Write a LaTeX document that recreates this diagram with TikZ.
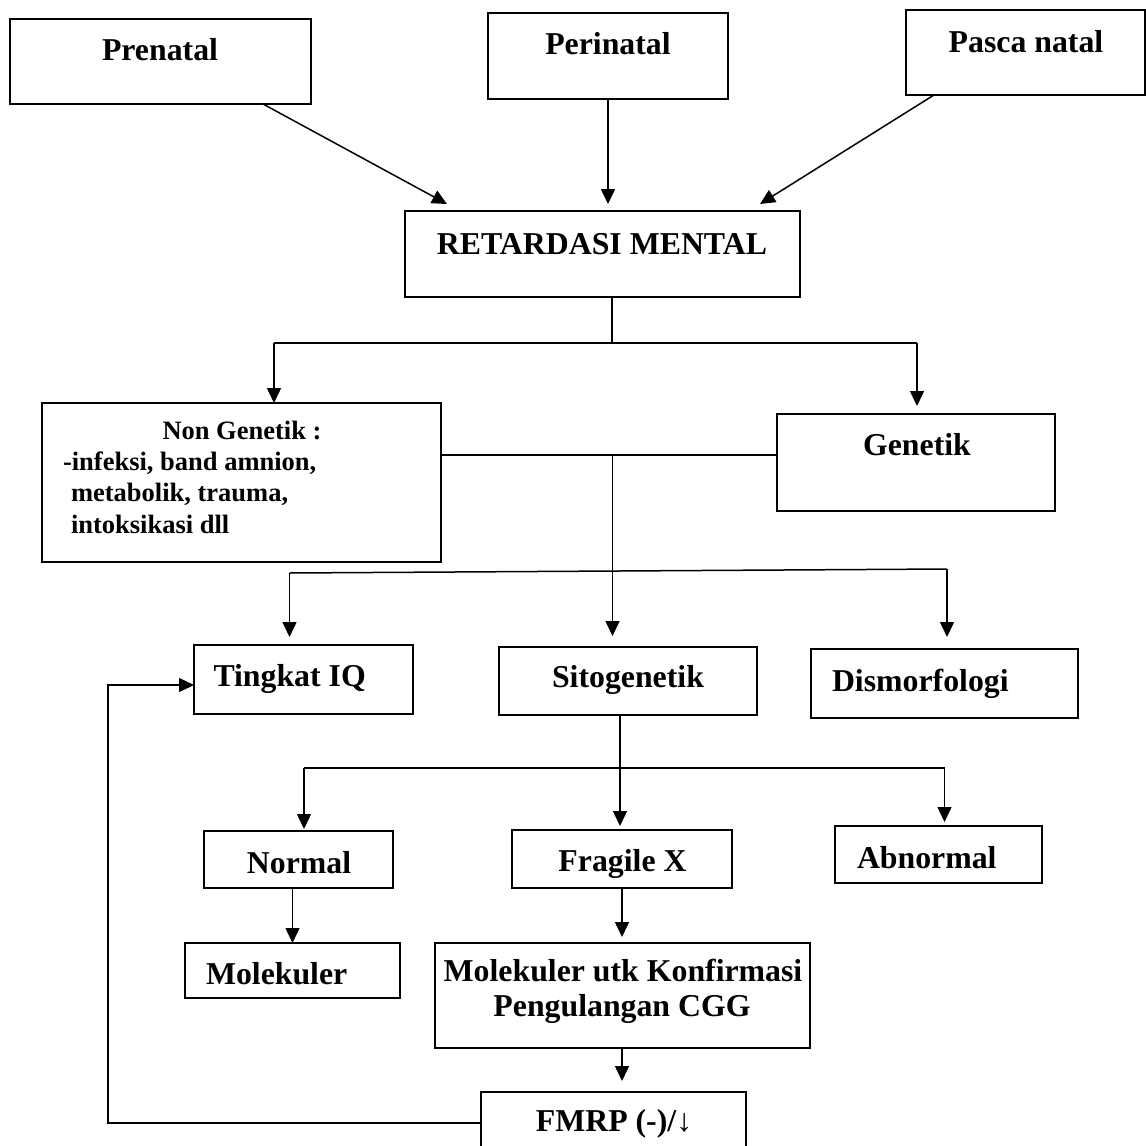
\documentclass[tikz,border=0pt]{standalone}
\usepackage{fontspec}
\setmainfont{Liberation Serif}
\usetikzlibrary{arrows.meta}
\begin{document}
\begin{tikzpicture}[x=1pt,y=-1pt,
  box/.style={draw, line width=2pt, rectangle, inner sep=0pt, outer sep=0pt},
  lbl/.style={inner sep=0pt, outer sep=0pt, anchor=base, font=\bfseries\fontsize{31.8}{31.8}\selectfont},
  lblw/.style={lbl, anchor=base west},
  small/.style={font=\bfseries\fontsize{26.5}{26.5}\selectfont},
  conn/.style={line width=1.5pt},
  arr/.style={conn, -{Triangle[length=15pt,width=14pt]}}]
\useasboundingbox (0,0) rectangle (1146,1146);
\clip (0,0) rectangle (1146,1146);
% boxes
\node[box, minimum width=301pt, minimum height=85pt] (pre) at (160.5,61.5) {};
\node[box, minimum width=240pt, minimum height=86pt] (peri) at (608,56) {};
\node[box, minimum width=239pt, minimum height=85pt] (pasca) at (1025.5,52.5) {};
\node[box, minimum width=395pt, minimum height=86pt] (rm) at (602.5,254) {};
\node[box, minimum width=399pt, minimum height=159pt] (ng) at (241.5,482.5) {};
\node[box, minimum width=278pt, minimum height=97pt] (gen) at (916,462.5) {};
\node[box, minimum width=219pt, minimum height=69pt] (tq) at (303.5,679.5) {};
\node[box, minimum width=258pt, minimum height=68pt] (sito) at (628,681) {};
\node[box, minimum width=267pt, minimum height=69pt] (dism) at (944.5,683.5) {};
\node[box, minimum width=189pt, minimum height=57pt] (nm) at (298.5,859.5) {};
\node[box, minimum width=220pt, minimum height=58pt] (fx) at (622,859) {};
\node[box, minimum width=207pt, minimum height=57pt] (abn) at (938.5,854.5) {};
\node[box, minimum width=215pt, minimum height=55pt] (mol) at (292.5,970.5) {};
\node[box, minimum width=375pt, minimum height=105pt] (kf) at (622.5,995.5) {};
\node[box, minimum width=265pt, minimum height=78pt] (fm) at (613.5,1131) {};
% texts
\node[lbl] (tpre) at (160,60) {Prenatal};
\node[lbl] (tperi) at (608,54) {Perinatal};
\node[lbl] (tpasca) at (1026,52) {Pasca natal};
\node[lbl] (trm) at (602,254) {RETARDASI MENTAL};
\node[lbl, small] (tng0) at (242,439) {Non Genetik :};
\node[lblw, small] (tng1) at (63,470) {-infeksi, band amnion,};
\node[lblw, small] (tng2) at (71,501) {metabolik, trauma,};
\node[lblw, small] (tng3) at (71,533) {intoksikasi dll};
\node[lbl] (tgen) at (917,455) {Genetik};
\node[lblw] (ttq) at (213.5,686) {Tingkat IQ};
\node[lbl] (tsito) at (628,687) {Sitogenetik};
\node[lblw] (tdism) at (832,691) {Dismorfologi};
\node[lbl] (tnm) at (299,873) {Normal};
\node[lbl] (tfx) at (622.5,871) {Fragile X};
\node[lblw] (tabn) at (857,868) {Abnormal};
\node[lblw] (tmol) at (206,984) {Molekuler};
\node[lbl] (tkf1) at (623,981) {Molekuler utk Konfirmasi};
\node[lbl] (tkf2) at (622,1016) {Pengulangan CGG};
\node[lbl] (tfm) at (614,1131) {FMRP (-)/↓};
% junction coordinates
\coordinate (jA) at (274,343);
\coordinate (j1) at (612,343);
\coordinate (jB) at (917,343);
\coordinate (jC) at (612.5,455);
\coordinate (jD) at (289.5,573);
\coordinate (jE) at (947,569);
\coordinate (jF) at (620,768);
\coordinate (jL) at (304,768);
\coordinate (jR) at (944.5,768);
\coordinate (jG) at (108,1123);
\coordinate (jH) at (108,685);
% connectors from the three top boxes
\draw[arr] ([xshift=-48pt]pre.south east) -- ([xshift=42pt,yshift=7pt]rm.north west);
\draw[arr, shorten >=7pt] (peri.south) -- (peri.south |- rm.north);
\draw[arr] ([xshift=28pt]pasca.south west) -- ([xshift=-40pt,yshift=7pt]rm.north east);
% RM split
\draw[conn] (rm.south -| j1) -- (j1);
\draw[conn] (jA) -- (jB);
\draw[arr] (jA) -- (jA |- ng.north);
\draw[arr, shorten >=8pt] (jB) -- (jB |- gen.north);
% Non genetik - genetik
\draw[conn] (ng.east |- jC) -- (gen.west |- jC);
\draw[arr, shorten >=11pt] (jC) -- (jC |- sito.north);
\draw[conn] (jD) -- (jE);
\draw[arr, shorten >=8pt] (jD) -- (jD |- tq.north);
\draw[arr, shorten >=12pt] (jE) -- (jE |- dism.north);
% Sitogenetik split
\draw[conn] (sito.south -| jF) -- (jF);
\draw[conn] (jL) -- (jR);
\draw[arr, shorten >=2pt] (jL) -- (jL |- nm.north);
\draw[arr, shorten >=4pt] (jF) -- (jF |- fx.north);
\draw[arr, shorten >=4pt] (jR) -- (jR |- abn.north);
% lower chain
\draw[arr] (mol.north |- nm.south) -- (mol.north);
\draw[arr, shorten >=6pt] (fx.south) -- (fx.south |- kf.north);
\draw[arr, shorten >=11pt] (kf.south -| fx.south) -- (fx.south |- fm.north);
% feedback
\draw[arr] (fm.west |- jG) -- (jG) -- (jH) -- (tq.west |- jH);
\end{tikzpicture}
\end{document}
